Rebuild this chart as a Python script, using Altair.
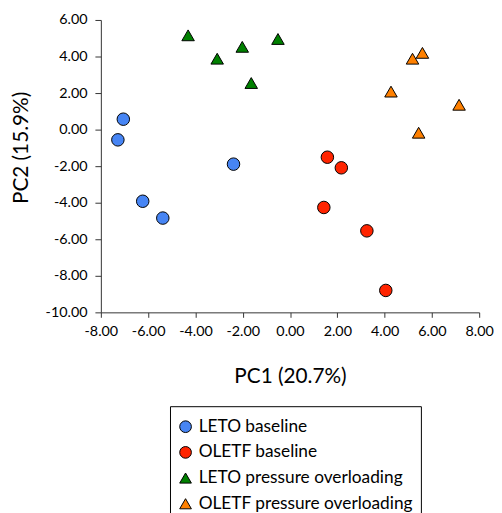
import altair as alt
import pandas as pd

groups = ["LETO baseline", "OLETF baseline", "LETO pressure overloading", "OLETF pressure overloading"]
colors = ["#4785f4", "#ff2400", "#008000", "#ff8000"]
shapes = ["circle", "circle", "triangle-up", "triangle-up"]

leto_base_pc1 = [-7.05, -7.28, -2.39, -6.23, -5.38]
leto_base_pc2 = [0.57, -0.56, -1.89, -3.92, -4.84]

oletf_base_pc1 = [1.58, 2.17, 1.43, 3.25, 4.05]
oletf_base_pc2 = [-1.51, -2.09, -4.26, -5.54, -8.80]

leto_po_pc1 = [-4.31, -3.08, -2.02, -0.51, -1.64]
leto_po_pc2 = [5.16, 3.88, 4.53, 4.96, 2.55]

oletf_po_pc1 = [5.18, 5.60, 4.27, 7.15, 5.44]
oletf_po_pc2 = [3.88, 4.20, 2.08, 1.36, -0.17]

x_ticks = [-8, -6, -4, -2, 0, 2, 4, 6, 8]
y_ticks = [-10, -8, -6, -4, -2, 0, 2, 4, 6]

rows = []
for g, xs, ys in [
    (groups[0], leto_base_pc1, leto_base_pc2),
    (groups[1], oletf_base_pc1, oletf_base_pc2),
    (groups[2], leto_po_pc1, leto_po_pc2),
    (groups[3], oletf_po_pc1, oletf_po_pc2),
]:
    for a, b in zip(xs, ys):
        rows.append({"group": g, "PC1": a, "PC2": b})
df = pd.DataFrame(rows)

label_expr = "(datum.value < 0 ? '-' : '') + format(abs(datum.value), '.2f')"
FONT = "Lato"

chart = (
    alt.Chart(df)
    .mark_point(filled=True, stroke="black", strokeWidth=1, opacity=1, size=160)
    .encode(
        x=alt.X(
            "PC1:Q",
            scale=alt.Scale(domain=[-8, 8], nice=False, zero=False),
            axis=alt.Axis(
                values=x_ticks,
                labelExpr=label_expr,
                labelOverlap=False,
                labelFlush=False,
                title="PC1 (20.7%)",
                grid=False,
                tickSize=5,
                labelPadding=7,
                titleBaseline="alphabetic",
                titleY=71,
            ),
        ),
        y=alt.Y(
            "PC2:Q",
            scale=alt.Scale(domain=[-10, 6], nice=False, zero=False),
            axis=alt.Axis(
                values=y_ticks,
                labelExpr=label_expr,
                labelOverlap=False,
                labelFlush=False,
                title="PC2 (15.9%)",
                grid=False,
                tickSize=6,
                labelPadding=8,
                titleAngle=270,
                titleBaseline="alphabetic",
                titleAlign="center",
                titleX=-74,
                titleY=129,
            ),
        ),
        color=alt.Color(
            "group:N",
            scale=alt.Scale(domain=groups, range=colors),
            legend=alt.Legend(
                title=" ",
                titleFontSize=1,
                titlePadding=4,
                orient="none",
                legendX=70,
                legendY=391,
                strokeColor="black",
                fillColor="white",
                padding=7,
                rowPadding=7,
                labelFontSize=17.5,
                labelFont=FONT,
                labelColor="black",
                labelLimit=400,
                labelOffset=4.5,
                labelExpr="datum.label + '\u00a0\u00a0'",
                symbolSize=140,
                symbolStrokeColor="black",
                symbolStrokeWidth=1,
                symbolOpacity=1,
            ),
        ),
        shape=alt.Shape(
            "group:N",
            scale=alt.Scale(domain=groups, range=shapes),
        ),
    )
    .properties(
        width=383,
        height=296,
        autosize=alt.AutoSizeParams(type="none"),
        padding={"left": 94, "top": 9, "right": 15, "bottom": 200},
    )
    .configure_view(stroke=None)
    .configure_axis(
        domainColor="#333333",
        tickColor="#333333",
        labelFont=FONT,
        labelFontSize=14.5,
        labelColor="black",
        titleFont=FONT,
        titleFontSize=21,
        titleFontWeight="normal",
        titleColor="black",
    )
)

chart.save("out.html", embed_options={"renderer": "svg", "actions": False})
